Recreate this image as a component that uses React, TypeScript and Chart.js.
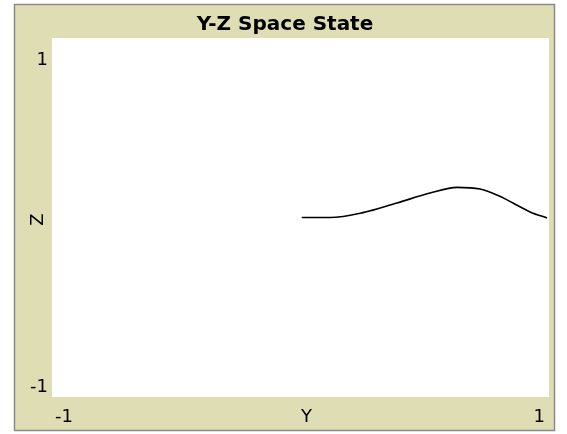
import React, { useEffect, useRef } from "react";
import { Chart, registerables } from "chart.js";

Chart.register(...registerables);

const title = "Y-Z Space State";
const xAxisLabel = "Y";
const yAxisLabel = "Z";
const xTicks = [-1, 1];
const yTicks = [-1, 1];
const yValues = [0.005, 0.119, 0.251, 0.388, 0.521, 0.63, 0.722, 0.791, 0.855, 0.924, 0.992];
const zValues = [0.0, 0.0, 0.027, 0.081, 0.136, 0.168, 0.159, 0.125, 0.081, 0.031, -0.003];

const BEIGE = "rgb(223,221,179)";
const FONT = "'DejaVu Sans', 'Lucida Grande', sans-serif";

const framePlugin = {
  id: "netlogoFrame",
  beforeDraw(chart: any) {
    const { ctx, chartArea } = chart;
    ctx.save();
    ctx.fillStyle = "#ffffff";
    ctx.fillRect(0, 0, chart.width, chart.height);
    ctx.fillStyle = BEIGE;
    ctx.fillRect(14, 4, 541, 427);
    ctx.strokeStyle = "#8a8a8a";
    ctx.lineWidth = 1.5;
    ctx.strokeRect(14.5, 4.5, 540, 426);
    ctx.fillStyle = "#ffffff";
    ctx.fillRect(chartArea.left, chartArea.top, chartArea.right - chartArea.left, chartArea.bottom - chartArea.top);
    ctx.restore();
  },
  afterDraw(chart: any) {
    const { ctx, chartArea, scales } = chart;
    const xs = scales.x;
    const ys = scales.y;
    ctx.save();
    ctx.fillStyle = "#000000";
    ctx.font = `bold 20px ${FONT}`;
    ctx.textAlign = "center";
    ctx.textBaseline = "alphabetic";
    ctx.fillText(title, 285, 30);

    ctx.font = `18px ${FONT}`;
    // y ticks
    ctx.textAlign = "right";
    ctx.textBaseline = "top";
    ctx.fillText(String(yTicks[1]), chartArea.left - 4, ys.getPixelForValue(yTicks[1]) + 13);
    ctx.textBaseline = "alphabetic";
    ctx.fillText(String(yTicks[0]), chartArea.left - 4, ys.getPixelForValue(yTicks[0]) - 5);
    // x ticks
    const base = chartArea.bottom + 25;
    ctx.textAlign = "left";
    ctx.fillText(String(xTicks[0]), xs.getPixelForValue(xTicks[0]) + 3, base);
    ctx.textAlign = "right";
    ctx.fillText(String(xTicks[1]), xs.getPixelForValue(xTicks[1]) - 4, base);
    ctx.textAlign = "center";
    ctx.fillText(xAxisLabel, xs.getPixelForValue(0) + 6, base);
    // z label rotated
    ctx.translate(38, (chartArea.top + chartArea.bottom) / 2 + 2);
    ctx.rotate(-Math.PI / 2);
    ctx.textAlign = "center";
    ctx.textBaseline = "middle";
    ctx.fillText(yAxisLabel, 0, 0);
    ctx.restore();
  },
};

export default function App() {
  const ref = useRef<HTMLCanvasElement>(null);
  useEffect(() => {
    document.body.style.margin = "0";
    const chart = new Chart(ref.current as HTMLCanvasElement, {
      type: "scatter",
      data: {
        datasets: [
          {
            data: yValues.map((v, i) => ({ x: v, y: zValues[i] })),
            showLine: true,
            borderColor: "#000000",
            borderWidth: 1.6,
            pointRadius: 0,
            cubicInterpolationMode: "monotone",
          },
        ],
      },
      options: {
        responsive: false,
        animation: false,
        layout: { padding: { left: 52, right: 18, top: 38, bottom: 37 } },
        plugins: { legend: { display: false }, tooltip: { enabled: false } },
        scales: {
          x: { type: "linear", min: xTicks[0], max: xTicks[1], display: false },
          y: { type: "linear", min: yTicks[0], max: yTicks[1], display: false },
        },
      },
      plugins: [framePlugin],
    });
    return () => chart.destroy();
  }, []);
  return (
    <div style={{ position: "absolute", left: 0, top: 0, width: 567, height: 434 }}>
      <canvas ref={ref} width={567} height={434} />
    </div>
  );
}
